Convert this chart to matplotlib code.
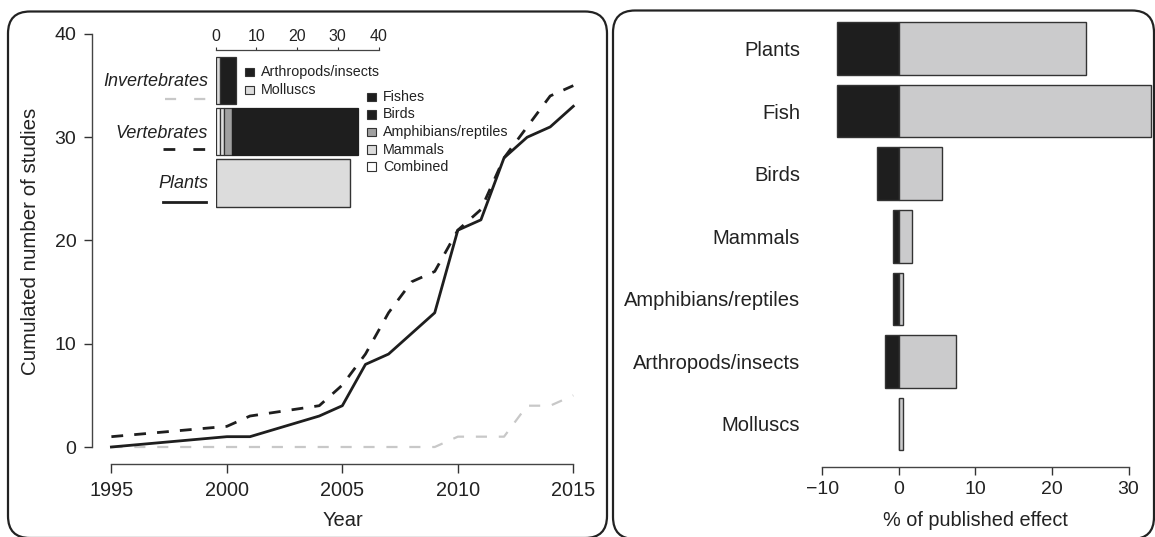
import matplotlib
matplotlib.use("Agg")
import matplotlib.pyplot as plt
from matplotlib.patches import FancyBboxPatch, Rectangle
from matplotlib.lines import Line2D
from matplotlib.transforms import IdentityTransform

plt.rcParams['font.family'] = ['Liberation Sans', 'DejaVu Sans']
plt.rcParams['lines.scale_dashes'] = False
plt.rcParams['text.color'] = '#222222'
plt.rcParams['xtick.color'] = '#333333'
plt.rcParams['ytick.color'] = '#333333'
plt.rcParams['xtick.labelcolor'] = '#222222'
plt.rcParams['ytick.labelcolor'] = '#222222'

# ---------------- data ----------------
plants_years = [1995, 2000, 2001, 2004, 2005, 2006, 2007, 2009, 2010, 2011, 2012, 2013, 2014, 2015]
plants_counts = [0, 1, 1, 3, 4, 8, 9, 13, 21, 22, 28, 30, 31, 33]

vert_years = [1995, 2000, 2001, 2004, 2005, 2006, 2007, 2008, 2009, 2010, 2011, 2012, 2013, 2014, 2015]
vert_counts = [1, 2, 3, 4, 6, 9, 13, 16, 17, 21, 23, 28, 31, 34, 35]

invert_years = [1995, 2009, 2010, 2012, 2013, 2014, 2015]
invert_counts = [0, 0, 1, 1, 4, 4, 5]

x_ticks = [1995, 2000, 2005, 2010, 2015]
y_ticks = [0, 10, 20, 30, 40]

# inset stacked bars
invert_labels = ['Molluscs', 'Arthropods/insects']
invert_values = [1, 4]
vert_labels = ['Combined', 'Mammals', 'Amphibians/reptiles', 'Birds', 'Fishes']
vert_values = [1, 1, 2, 6, 25]
plants_total = [33]
inset_ticks = [0, 10, 20, 30, 40]

# right panel
effect_cats = ['Plants', 'Fish', 'Birds', 'Mammals', 'Amphibians/reptiles',
               'Arthropods/insects', 'Molluscs']
effect_neg = [-8.1, -8.1, -2.9, -0.7, -0.7, -1.85, 0.0]
effect_pos = [24.4, 32.9, 5.6, 1.7, 0.55, 7.4, 0.6]
effect_ticks = [-10, 0, 10, 20, 30]

# ---------------- styles ----------------
BLACK = '#1e1e1e'
GRAY = '#cbcbcc'
LIGHT = '#dcdcdc'
MID = '#a0a0a0'
LINEGRAY = '#c8c8c8'
EDGE = '#333333'

W, H = 1155, 537
fig = plt.figure(figsize=(W / 100, H / 100), dpi=100)


def fx(px):
    return px / W


def fy(py):
    return 1 - py / H


# ---------------- left main axes ----------------
ax = fig.add_axes([fx(111.4), fy(447), (573.3 - 111.4) / W, (447 - 34) / H])
ax.set_xlim(1995, 2015)
ax.set_ylim(0, 40)
ax.patch.set_visible(False)

ax.plot(invert_years, invert_counts, color=LINEGRAY, lw=1.6, dashes=(8, 8.5),
        clip_on=False, zorder=2)
ax.plot(vert_years, vert_counts, color=BLACK, lw=2.0, dashes=(8.5, 8),
        clip_on=False, zorder=3)
ax.plot(plants_years, plants_counts, color=BLACK, lw=2.0, clip_on=False, zorder=4)

for s in ['top', 'right']:
    ax.spines[s].set_visible(False)
ax.spines['left'].set_position(('outward', 14.2))
ax.spines['bottom'].set_position(('outward', 12.2))
ax.spines['left'].set_bounds(0, 40)
ax.spines['bottom'].set_bounds(1995, 2015)
for s in ['left', 'bottom']:
    ax.spines[s].set_linewidth(1.0)
    ax.spines[s].set_color('#444444')
ax.set_xticks(x_ticks)
ax.set_yticks(y_ticks)
ax.tick_params(axis='both', length=6, width=1.0, labelsize=14, pad=5)
ax.tick_params(axis='x', length=6.5, pad=6, labelsize=14.3)

fig.text(fx(30.5), fy(241.5), 'Cumulated number of studies', rotation=90,
         ha='center', va='center', fontsize=14.8)
fig.text(fx(342.5), fy(520), 'Year', ha='center', va='center', fontsize=14.5)

# ---------------- inset ----------------
axi = fig.add_axes([fx(215.7), fy(213.75), 162.8 / W, (213.75 - 50) / H])
axi.set_xlim(0, 40)
axi.set_ylim(-0.6, 2.595)
axi.patch.set_visible(False)
bh = 0.92
inv_colors = [LIGHT, BLACK]
left = 0
for v, c in zip(invert_values, inv_colors):
    axi.barh(2, v, left=left, height=bh, color=c, edgecolor=EDGE, lw=0.9)
    left += v
vert_colors = ['#f4f4f4', LIGHT, MID, BLACK, BLACK]
left = 0
for v, c in zip(vert_values, vert_colors):
    ec = BLACK if c == BLACK else EDGE
    axi.barh(1, v, left=left, height=bh, color=c, edgecolor=ec, lw=0.9)
    left += v
axi.barh(0, plants_total[0], height=bh, color=LIGHT, edgecolor=EDGE, lw=1.0)

for s in ['bottom', 'left', 'right']:
    axi.spines[s].set_visible(False)
axi.spines['top'].set_bounds(0, 40)
axi.spines['top'].set_linewidth(0.9)
axi.spines['top'].set_color('#444444')
axi.set_yticks([])
axi.set_xticks(inset_ticks)
axi.xaxis.set_ticks_position('top')
axi.xaxis.set_label_position('top')
axi.tick_params(axis='x', length=2, width=0.8, labelsize=11.5, pad=2.5)

# group labels + line keys
fig.text(fx(208), fy(81.5), 'Invertebrates', ha='right', va='center',
         fontsize=13, style='italic')
fig.text(fx(208), fy(133), 'Vertebrates', ha='right', va='center',
         fontsize=13, style='italic')
fig.text(fx(208), fy(183.5), 'Plants', ha='right', va='center',
         fontsize=13, style='italic')
fig.add_artist(Line2D([fx(165), fx(206)], [fy(99), fy(99)], color=LINEGRAY,
                      lw=1.6, dashes=(8, 13), transform=fig.transFigure))
fig.add_artist(Line2D([fx(163), fx(206)], [fy(149), fy(149)], color=BLACK,
                      lw=2.0, dashes=(8.5, 13), transform=fig.transFigure))
fig.add_artist(Line2D([fx(163), fx(206)], [fy(202), fy(202)], color=BLACK,
                      lw=2.0, transform=fig.transFigure))

# legends (manual)
def legend_item(x, y, label, color):
    fig.add_artist(Rectangle((fx(x), fy(y + 4)), 8.5 / W, 8.5 / H, facecolor=color,
                             edgecolor=EDGE, lw=0.8, transform=fig.transFigure))
    fig.text(fx(x + 16), fy(y), label, ha='left', va='center', fontsize=10.3)

legend_item(245, 72, 'Arthropods/insects', BLACK)
legend_item(245, 90, 'Molluscs', LIGHT)
legend2 = [('Fishes', BLACK), ('Birds', BLACK), ('Amphibians/reptiles', MID),
           ('Mammals', LIGHT), ('Combined', 'white')]
for i, (lab, col) in enumerate(legend2):
    legend_item(367, 97 + i * 17.5, lab, col)

# ---------------- right axes ----------------
ax2 = fig.add_axes([fx(822.3), fy(466.8), (1155.3 - 822.3) / W, (466.8 - 11) / H])
ax2.set_xlim(-10, 33.5)
ax2.set_ylim(-0.684, 6.6)
ax2.patch.set_visible(False)
ypos = list(range(len(effect_cats) - 1, -1, -1))
ax2.barh(ypos, effect_neg, height=0.84, color=BLACK, edgecolor=EDGE, lw=1.0)
ax2.barh(ypos, effect_pos, height=0.84, color=GRAY, edgecolor=EDGE, lw=1.0)
for s in ['top', 'left', 'right']:
    ax2.spines[s].set_visible(False)
ax2.spines['bottom'].set_bounds(-10, 30)
ax2.spines['bottom'].set_linewidth(1.0)
ax2.spines['bottom'].set_color('#444444')
ax2.set_yticks(ypos)
ax2.set_yticklabels(effect_cats)
ax2.set_xticks(effect_ticks)
ax2.tick_params(axis='y', length=0, pad=16, labelsize=14.5)
ax2.tick_params(axis='x', length=6, width=1.0, labelsize=14, pad=4)
fig.text(fx(975.6), fy(520.5), '% of published effect', ha='center',
         va='center', fontsize=14.3)

# ---------------- panel frames ----------------
for (x0, x1, ytop, ybot) in [(8, 607, 11.5, 538), (613, 1154, 10.5, 539)]:
    fig.add_artist(FancyBboxPatch((x0, H - ybot), x1 - x0, ybot - ytop,
                                  boxstyle='round,pad=0,rounding_size=22',
                                  fill=False, lw=1.6, ec='#222222',
                                  transform=IdentityTransform()))

fig.savefig('out.png', dpi=100)
